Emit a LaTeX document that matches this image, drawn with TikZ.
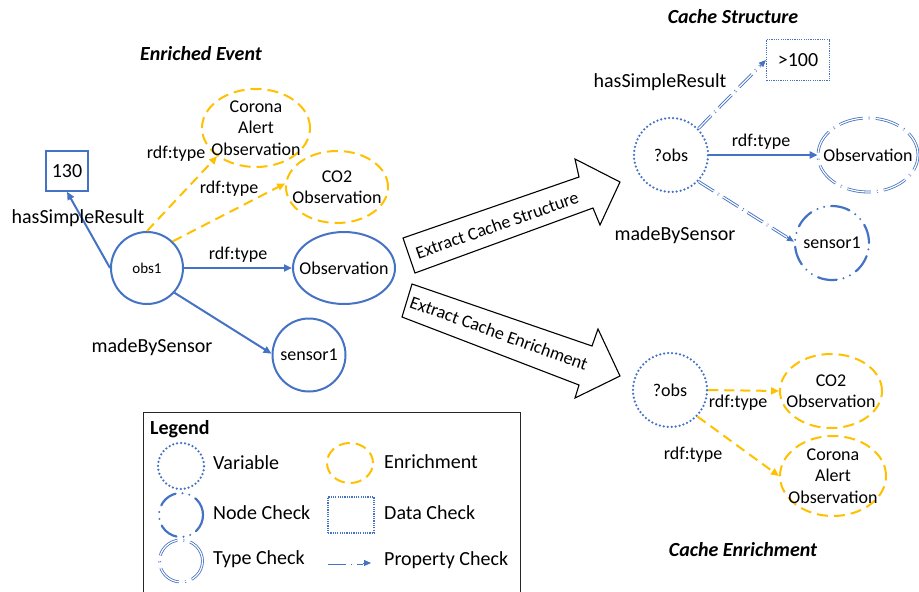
\documentclass[tikz,border=0pt]{standalone}
\usepackage{fontspec}
\setmainfont{Carlito}
\usetikzlibrary{shapes.geometric,arrows.meta,calc}
\definecolor{ublue}{RGB}{68,114,196}
\definecolor{ugold}{RGB}{255,192,0}

\tikzset{
  nodetext/.style={font=\fontsize{18}{21.5}\selectfont, align=center},
  % solid blue resource node
  resnode/.style={nodetext, draw=ublue, line width=2pt, inner sep=-20pt},
  % enrichment: dashed gold ellipse
  enrichnode/.style={nodetext, ellipse, draw=ugold, line width=2pt,
    dash pattern=on 11pt off 6pt, inner sep=-20pt},
  % variable: dotted blue circle
  varnode/.style={nodetext, circle, draw=ublue, line width=2.5pt, line cap=round,
    dash pattern=on 0pt off 4pt, inner sep=-20pt},
  % node check: dash-dot-dot blue circle
  nodecheck/.style={nodetext, circle, draw=ublue, line width=2.2pt, line cap=round,
    dash pattern=on 19pt off 7pt on 0pt off 7pt on 0pt off 7pt, inner sep=-20pt},
  % type check: double dash-dot ellipse
  typecheck/.style={nodetext, ellipse, draw=ublue, line width=0.8pt, double=white,
    double distance=1.2pt, dash pattern=on 24pt off 6pt on 1pt off 6pt, inner sep=-20pt},
  % data check: finely dotted box
  datanode/.style={nodetext, rectangle, draw=ublue, line width=1.2pt,
    dash pattern=on 1.2pt off 1.1pt, inner sep=0pt},
  legendshape/.style={inner sep=0pt},
  edgelabel/.style={font=\fontsize{18}{21.5}\selectfont, inner sep=0pt},
  biglabel/.style={font=\fontsize{20}{24}\selectfont, inner sep=0pt},
  heading/.style={font=\fontsize{20}{24}\selectfont\bfseries\itshape, inner sep=0pt},
  bluearrow/.style={draw=ublue, line width=2pt, -{Triangle[length=8pt,width=7pt]}},
  goldarrow/.style={draw=ugold, line width=2pt, dash pattern=on 10pt off 6pt,
    -{Triangle[length=8pt,width=7pt]}},
  propline/.style={draw=ublue, line width=0.9pt, double=white, double distance=1.2pt,
    dash pattern=on 18pt off 5pt on 1pt off 5pt},
  proptip/.style={draw=ublue, line width=1pt, -{Triangle[length=7pt,width=6pt]}},
  bigarrow/.style={draw=black, fill=white, line width=1.1pt, line join=miter},
  arrowtext/.style={font=\fontsize{18}{21.5}\selectfont, inner sep=0pt},
}

% property check edge: double dash-dot line ending in a solid tip
\newcommand\propedge[2]{%
  \draw[propline, shorten >=8pt] (#1) -- (#2);
  \draw[proptip] ($(#2)!8pt!(#1)$) -- (#2);}

\begin{document}
\begin{tikzpicture}[x=1pt,y=-1pt]
\useasboundingbox (0,0) rectangle (919,592);

% ---------------- Enriched event ----------------
\node[heading] (tEE) at (201,54) {Enriched Event};

\node[resnode, rectangle, inner sep=0pt, minimum width=42pt, minimum height=40pt,
  line width=1.5pt, font=\fontsize{20}{24}\selectfont] (v130) at (67,171) {130};
\node[resnode, circle, minimum size=72pt, font=\fontsize{15}{18}\selectfont] (obs1) at (147,268) {obs1};
\node[enrichnode, minimum width=108pt, minimum height=78pt] (corA) at (256,128) {Corona\\Alert\\Observation};
\node[enrichnode, minimum width=102pt, minimum height=72pt] (co2A) at (337,187) {CO2\\Observation};
\node[resnode, ellipse, minimum width=102pt, minimum height=72pt] (obsA) at (344,268) {Observation};
\node[resnode, circle, minimum size=73pt] (senA) at (309,355) {sensor1};

\draw[bluearrow] (obs1.west) -- (v130.south);
\draw[goldarrow] (obs1.north) -- (corA.216);
\draw[goldarrow] (obs1.46) -- (co2A.176);
\draw[bluearrow] (obs1.east) -- (obsA.west);
\draw[bluearrow] (obs1.-42) -- (senA.178);

\node[biglabel] (lHSR1) at (78,218) {hasSimpleResult};
\node[edgelabel] (lT1) at (176,154) {rdf:type};
\node[edgelabel] (lT2) at (229,189) {rdf:type};
\node[edgelabel] (lT3) at (238,255) {rdf:type};
\node[biglabel] (lMBS1) at (152,347) {madeBySensor};

% ---------------- Extraction arrows ----------------
\draw[bigarrow] (403,238) -- (579,177) -- (575,159) -- (620,182) -- (600,225)
  -- (593,208) -- (415,273) -- cycle;
\node[arrowtext, rotate=19.4] (xCS) at (497,225) {Extract Cache Structure};

\draw[bigarrow] (412,284) -- (592,346) -- (598,329) -- (620,376) -- (575,398)
  -- (579,385) -- (402,317) -- cycle;
\node[arrowtext, rotate=-19.8] (xCE) at (499,333) {Extract Cache Enrichment};

% ---------------- Cache structure ----------------
\node[heading] (tCS) at (733,17) {Cache Structure};

\node[varnode, minimum size=74pt] (obsV1) at (671,155) {?obs};
\node[datanode, minimum width=63pt, minimum height=41pt,
  font=\fontsize{20}{24}\selectfont] (gt100) at (798,60) {>100};
\node[typecheck, minimum width=100pt, minimum height=74pt] (obsT) at (868,155) {Observation};
\node[nodecheck, minimum size=74pt] (senN) at (832,243) {sensor1};

\propedge{obsV1.44}{gt100.west}
\draw[bluearrow] (obsV1.east) -- (obsT.west);
\propedge{obsV1.-44}{senN.178}

\node[biglabel] (lHSR2) at (660,82) {hasSimpleResult};
\node[edgelabel] (lT4) at (761,142) {rdf:type};
\node[biglabel] (lMBS2) at (675,235) {madeBySensor};

% ---------------- Cache enrichment ----------------
\node[varnode, minimum size=74pt] (obsV2) at (670,390) {?obs};
\node[enrichnode, minimum width=102pt, minimum height=74pt] (co2B) at (831,391) {CO2\\Observation};
\node[enrichnode, minimum width=106pt, minimum height=80pt] (corB) at (833,476) {Corona\\Alert\\Observation};

\draw[goldarrow] (obsV2.east) -- (co2B.west);
\draw[goldarrow] (obsV2.-44) -- (corB.west);

\node[edgelabel] (lT5) at (738,403) {rdf:type};
\node[edgelabel] (lT6) at (693,455) {rdf:type};

\node[heading] (tCE) at (743,550) {Cache Enrichment};

% ---------------- Legend ----------------
\draw[black!85, line width=0.9pt] (143,595) -- (143,412) -- (520,412) -- (520,595);
\node[font=\fontsize{20}{24}\selectfont\bfseries, inner sep=0pt, anchor=west] (lgT) at (150,429) {Legend};

\node[varnode, legendshape, minimum size=46pt] (lgVar) at (181,466) {};
\node[biglabel, anchor=west] (lgVarT) at (213,463) {Variable};
\node[nodecheck, legendshape, minimum size=44pt] (lgNode) at (181,515) {};
\node[biglabel, anchor=west] (lgNodeT) at (213,513) {Node Check};
\node[typecheck, legendshape, minimum width=43pt, minimum height=42pt] (lgType) at (181,561) {};
\node[biglabel, anchor=west] (lgTypeT) at (213,559) {Type Check};

\node[enrichnode, legendshape, minimum width=46pt, minimum height=40pt] (lgEnr) at (350,463) {};
\node[biglabel, anchor=west] (lgEnrT) at (384,462) {Enrichment};
\node[datanode, legendshape, minimum width=46pt, minimum height=36pt] (lgData) at (351,515) {};
\node[biglabel, anchor=west] (lgDataT) at (384,513) {Data Check};
\coordinate (lgP1) at (328,563);
\coordinate (lgP2) at (371,563);
\propedge{lgP1}{lgP2}
\node[biglabel, anchor=west] (lgPropT) at (384,560) {Property Check};

\end{tikzpicture}
\end{document}
